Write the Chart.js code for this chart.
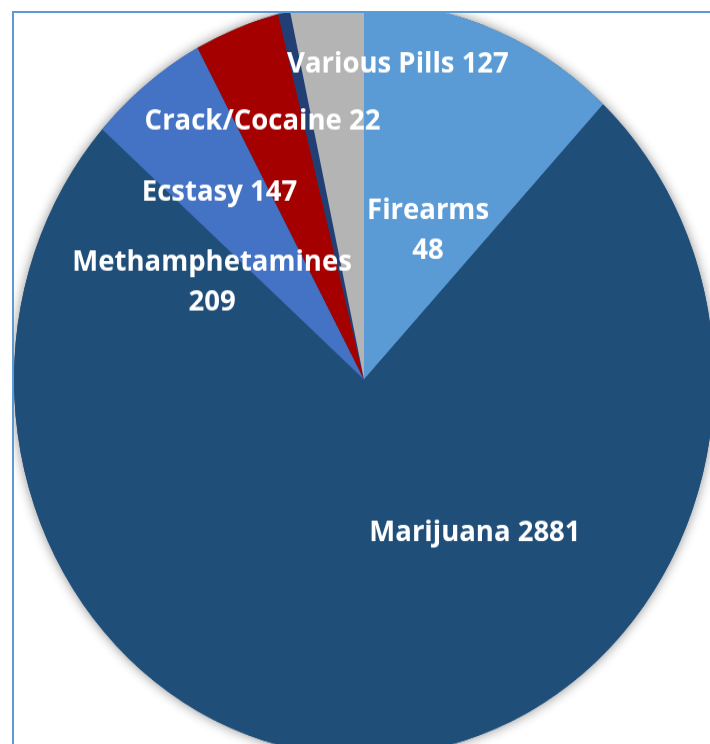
<!DOCTYPE html>
<html>
<head>
<meta charset="utf-8">
<script src="https://cdn.jsdelivr.net/npm/chart.js@4.4.1/dist/chart.umd.min.js"></script>
<style>
  html, body { margin: 0; padding: 0; background: #fff; overflow: hidden; }
  body { width: 710px; height: 744px; position: relative; }
  #frame {
    position: absolute; left: 12px; top: 11px; width: 800px; height: 800px;
    border-left: 2px solid #5B9BD5; border-top: 2px solid #5B9BD5; overflow: hidden;
  }
  /* the original picture is a little taller than wide, so stretch the round pie */
  #chart {
    position: absolute; left: -20px; top: -32px;
    width: 740px; height: 740px;
    transform: scaleY(1.077); transform-origin: 0 0;
  }
</style>
</head>
<body>
<div id="frame">
  <canvas id="chart" width="740" height="740"></canvas>
</div>
<script>
const categories = ["Firearms", "Marijuana", "Methamphetamines", "Ecstasy", "Crack/Cocaine", "Various Pills"];
const counts = [48, 2881, 209, 147, 22, 127];
// slice sizes as they are drawn in the picture (degrees of the circle)
const sliceShares = [43.1, 268.5, 20.0, 14.2, 2.0, 12.2];
const sliceColors = ["#5B9BD5", "#1F4E79", "#4472C4", "#A50000", "#213F74", "#B4B4B4"];

// label spot: offset from the pie centre in radii, wrap = count on a second line
const labelSpots = [
  { fx: 0.183, fy: -0.401, wrap: true },
  { fx: 0.317, fy: 0.401, wrap: false },
  { fx: -0.434, fy: -0.263, wrap: true },
  { fx: -0.413, fy: -0.501, wrap: false },
  { fx: -0.29, fy: -0.692, wrap: false },
  { fx: 0.097, fy: -0.841, wrap: false },
];

const pieShadow = {
  id: "pieShadow",
  beforeDatasetsDraw(chart) {
    const arc = chart.getDatasetMeta(0).data[0];
    const ctx = chart.ctx;
    ctx.save();
    ctx.shadowColor = "rgba(0,0,0,0.45)";
    ctx.shadowBlur = 12;
    ctx.fillStyle = sliceColors[1];
    ctx.beginPath();
    ctx.arc(arc.x, arc.y, arc.outerRadius, 0, Math.PI * 2);
    ctx.fill();
    ctx.restore();
  },
};

const sliceLabels = {
  id: "sliceLabels",
  afterDatasetsDraw(chart) {
    const ctx = chart.ctx;
    ctx.save();
    ctx.fillStyle = "#fff";
    ctx.font = "bold 27.5px 'Open Sans'";
    ctx.textAlign = "center";
    ctx.textBaseline = "middle";
    chart.getDatasetMeta(0).data.forEach((arc, i) => {
      const spot = labelSpots[i];
      const x = arc.x + spot.fx * arc.outerRadius;
      const y = arc.y + spot.fy * arc.outerRadius + 2;
      if (spot.wrap) {
        ctx.fillText(categories[i], x, y - 18.5);
        ctx.fillText(String(counts[i]), x, y + 18.5);
      } else {
        ctx.fillText(categories[i] + " " + counts[i], x, y);
      }
    });
    ctx.restore();
  },
};

new Chart(document.getElementById("chart"), {
  type: "pie",
  data: {
    labels: categories,
    datasets: [
      {
        data: sliceShares,
        backgroundColor: sliceColors,
        borderWidth: 0,
      },
    ],
  },
  options: {
    responsive: false,
    animation: false,
    layout: { padding: 20 },
    plugins: { legend: { display: false }, tooltip: { enabled: false } },
  },
  plugins: [pieShadow, sliceLabels],
});
</script>
</body>
</html>
